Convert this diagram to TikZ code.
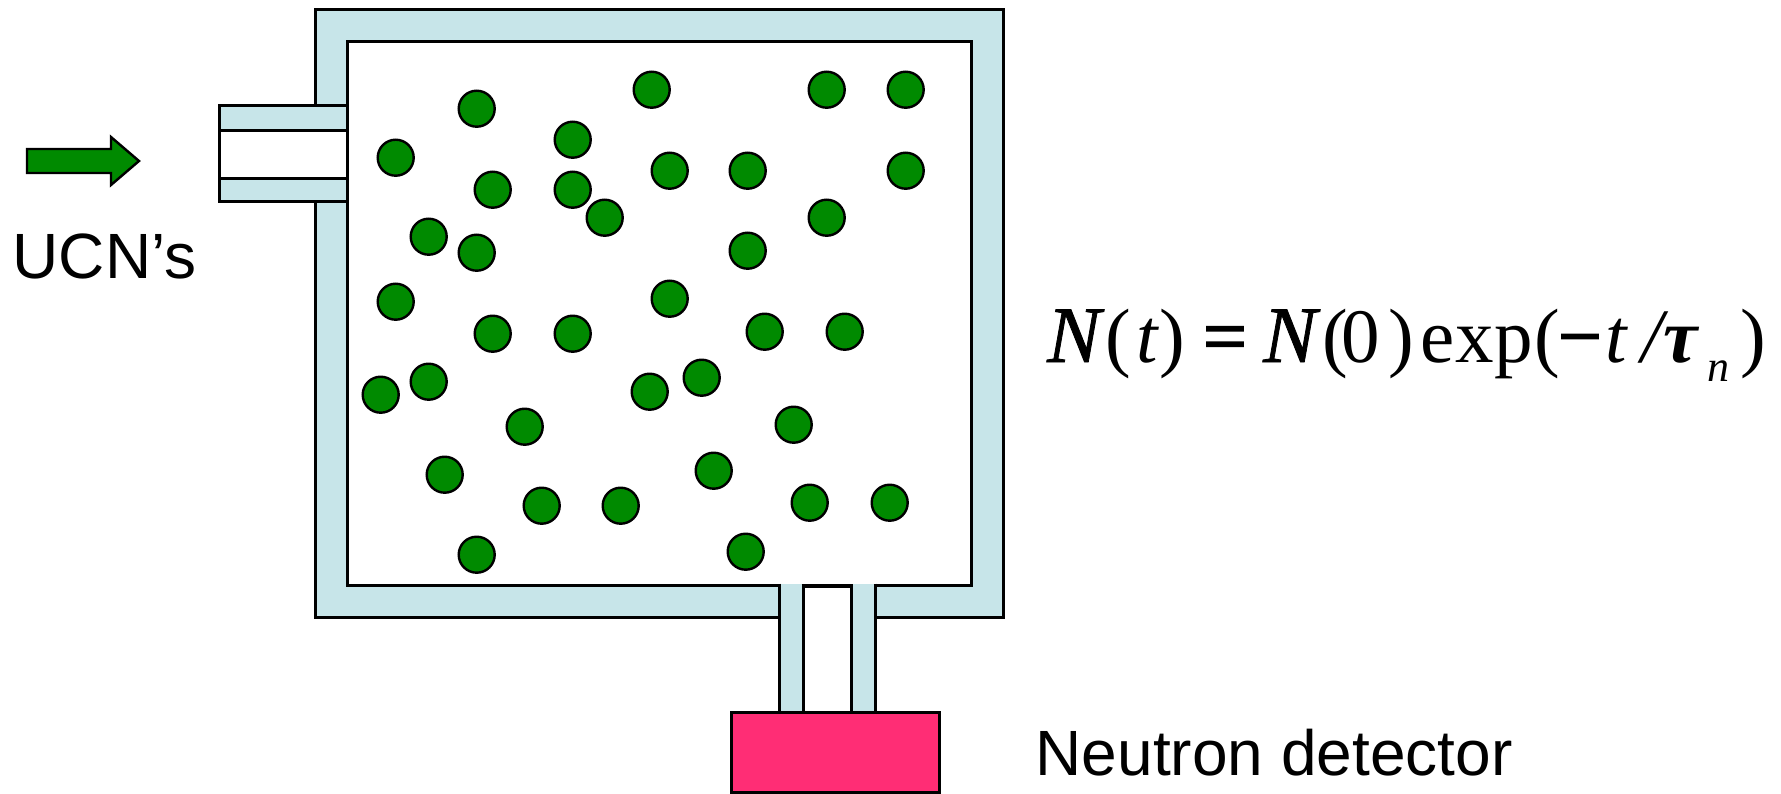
\documentclass[tikz,border=0pt]{standalone}
\usepackage{fontspec}
\setmainfont{Liberation Sans}
\newfontfamily\timesf{Liberation Serif}
\newfontfamily\timesheavy[FakeBold=2.5]{Liberation Serif}
\newfontfamily\timesmed[FakeBold=1]{Liberation Serif}
\definecolor{wallblue}{HTML}{C7E5E9}
\definecolor{ucngreen}{HTML}{008A00}
\definecolor{detpink}{HTML}{FF2D75}
\tikzset{
  wall/.style={draw=black,line width=3pt,fill=wallblue},
  hole/.style={draw=black,line width=3pt,fill=white},
  ucn/.style={circle,draw=black,line width=2.4pt,fill=ucngreen,minimum size=36pt,inner sep=0pt},
  label/.style={anchor=base west,inner sep=0pt,font=\fontsize{64}{64}\selectfont},
  eq/.style={anchor=base west,inner sep=0pt,font=\timesf\fontsize{77}{77}\selectfont},
  eqheavy/.style={anchor=base west,inner sep=0pt,font=\timesheavy\fontsize{77}{77}\selectfont},
  eqN/.style={anchor=base west,inner sep=0pt,font=\timesmed\itshape\fontsize{80}{80}\selectfont},
}
\begin{document}
\begin{tikzpicture}[x=1pt,y=-1pt]
\useasboundingbox (0,0) rectangle (1781,793);
% chamber
\draw[wall] (315,9) rectangle (1003,617);
\draw[hole] (347,41) rectangle (971,585);
% entrance tube
\draw[wall] (219,105) rectangle (347,201);
\draw[hole] (219,130) rectangle (347,178);
% exit tube
\fill[wallblue] (779,583.5) rectangle (875,712);
\fill[white] (803,587) rectangle (851,712);
\draw[line width=3pt] (779,583.5) -- (779,712) (803,585) -- (803,712) (851,585) -- (851,712) (875,583.5) -- (875,712);
\draw[line width=4pt] (801.5,585.5) -- (852.5,585.5);
% detector
\node[draw=black,line width=3pt,fill=detpink,minimum width=208pt,minimum height=79.5pt,inner sep=0pt,outer sep=0pt,anchor=north west] (detector) at (731,712.5) {};
% arrow
\draw[draw=black,line width=2.4pt,fill=ucngreen,line join=miter] (27,149) -- (111,149) -- (111,137) -- (139,161) -- (111,185) -- (111,173) -- (27,173) -- cycle;
% particles
\foreach \i/\x/\y in {1/476/108,2/651/89,3/826/89,4/905/89,5/395/157,6/572/139,7/492/189,8/572/189,9/669/170,10/747/170,11/905/170,12/604/217,13/826/217,14/428/236,15/476/252,16/747/250,17/395/301,18/669/298,19/492/333,20/572/333,21/764/331,22/844/331,23/428/381,24/380/394,25/649/391,26/701/377,27/524/426,28/793/424,29/444/474,30/713/470,31/541/505,32/620/505,33/809/502,34/889/502,35/476/554,36/745/551}
  \node[ucn,xshift=0.7pt,yshift=-0.7pt] (p\i) at (\x,\y) {};
% labels
\node[label] (ucnlabel) at (12.5,278) {UCN’s};
\node[label] (detlabel) at (1035.5,775) {Neutron detector};
% equation
\node[eqN] (e1) at (1047,362) {N};
\node[eq] (e2) at (1105,362) {(};
\node[eq] (e3) at (1136.5,362) {\itshape t};
\node[eq] (e4) at (1159,362) {)};
\node[eqheavy] (e5) at (1203,362) {=};
\node[eqN] (e6) at (1263,362) {N};
\node[eq] (e7) at (1322,362) {(};
\node[eq] (e8) at (1341,362) {0};
\node[eq] (e9) at (1388,362) {)};
\node[eq] (e10) at (1420,362) {e};
\node[eq] (e11) at (1455,362) {x};
\node[eq] (e12) at (1494,362) {p};
\node[eq] (e13) at (1534,362) {(};
\node[eqheavy] (e14) at (1558,362) {−};
\node[eq] (e15) at (1605.5,362) {\itshape t};
\node[eq] (e16) at (1641,362) {\itshape /};
\node[eq] (e17) at (1663,362) {\bfseries\itshape τ};
\node[eq,font=\timesf\itshape\fontsize{44}{44}\selectfont] (e18) at (1707,381) {n};
\node[eq] (e19) at (1740,362) {)};
\end{tikzpicture}
\end{document}
